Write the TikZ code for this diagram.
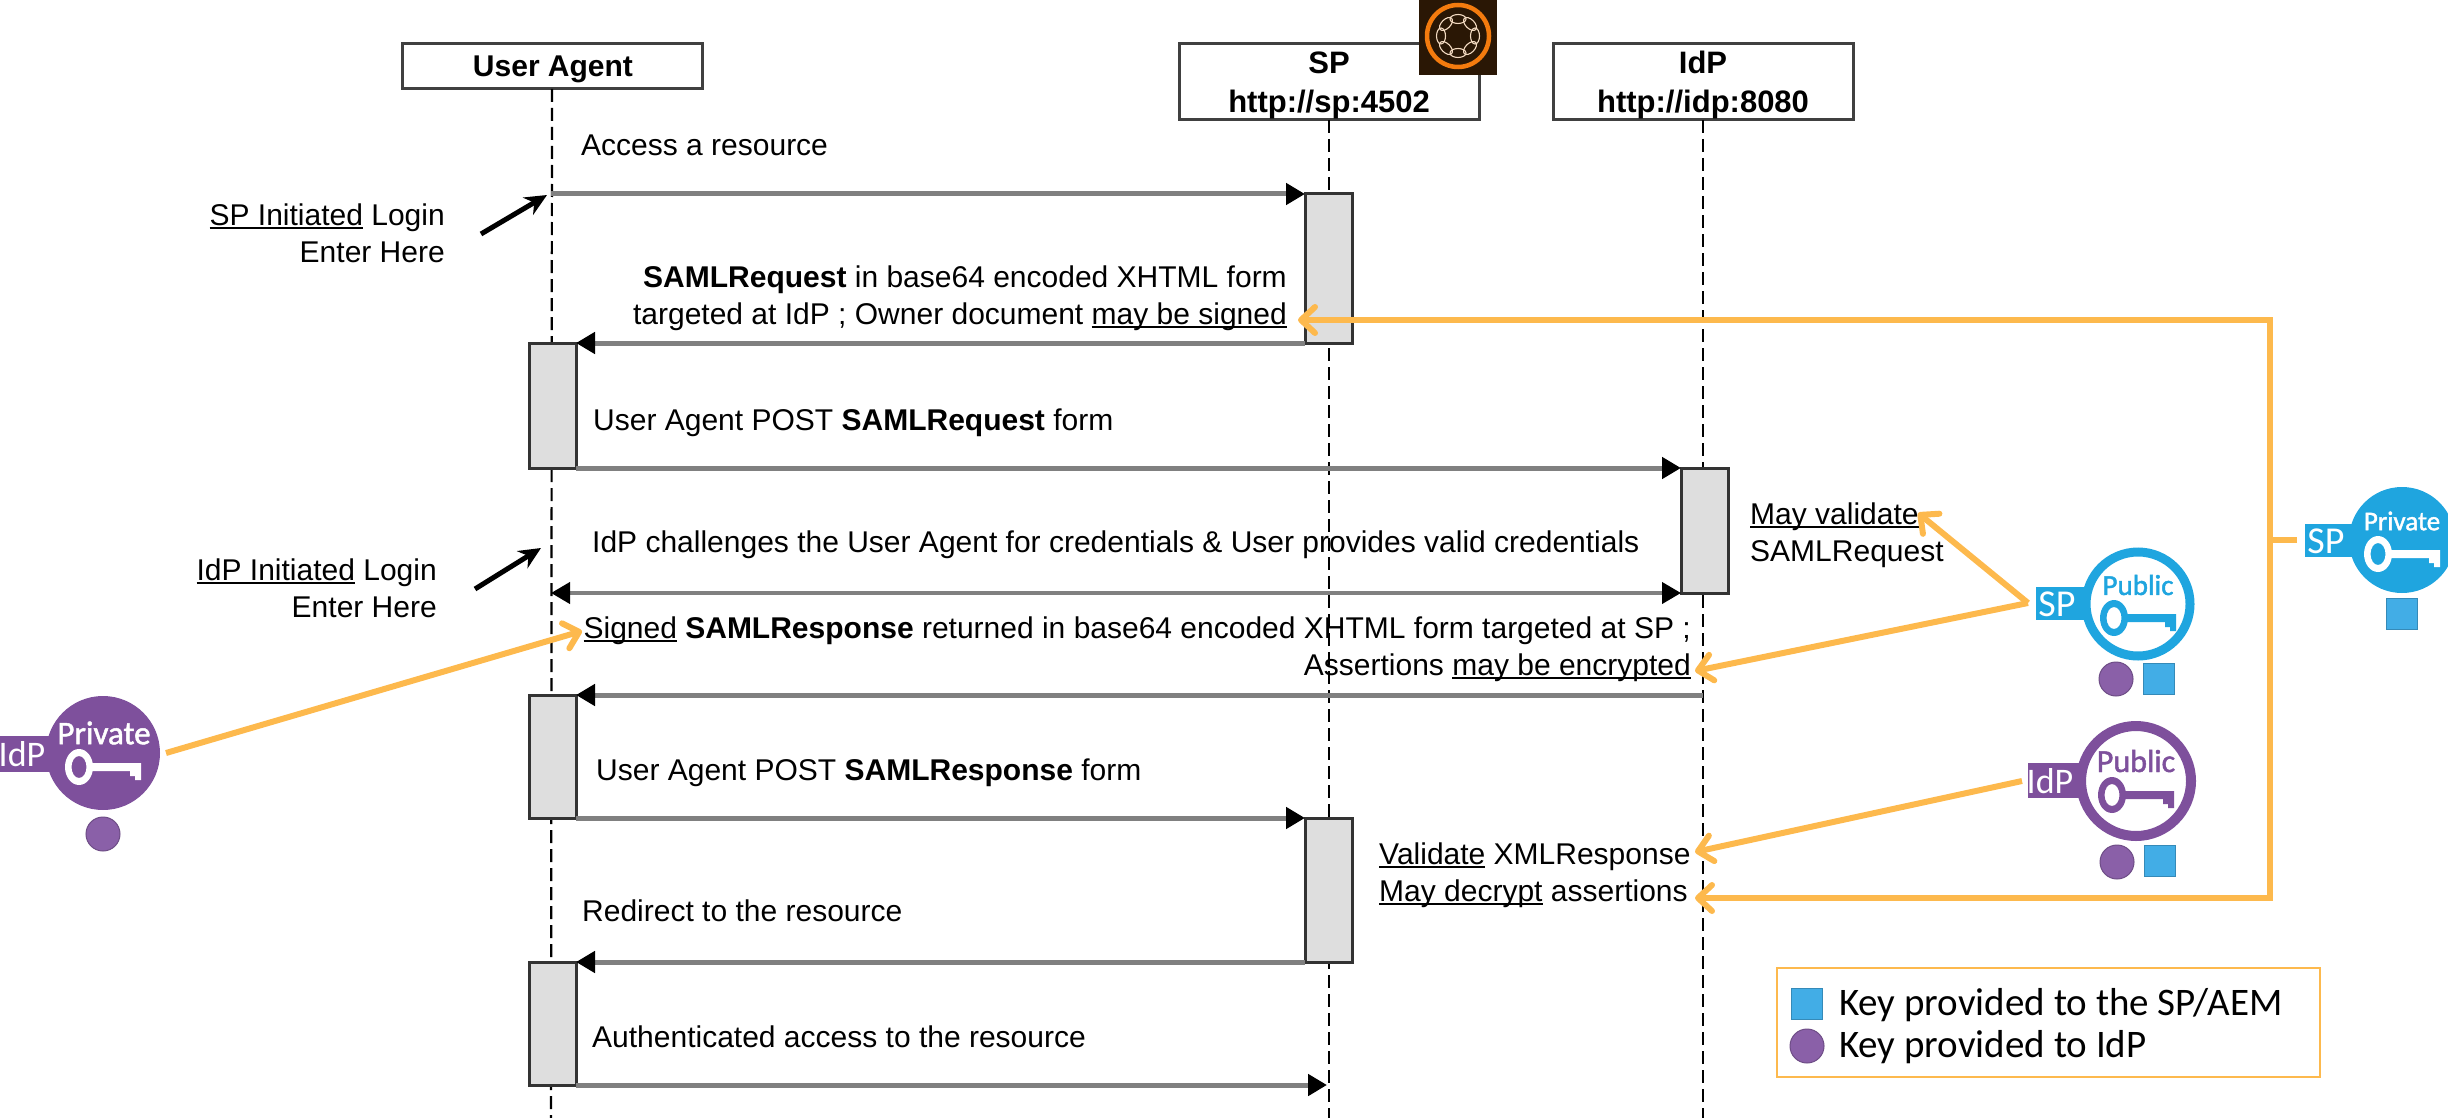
\documentclass[tikz,border=0pt]{standalone}
\usepackage{fontspec}
\setmainfont{Liberation Sans}
\newfontfamily\keyfont{Carlito}
\newfontfamily\keymed[FakeBold=1.5]{Carlito}
\usetikzlibrary{arrows.meta}
\definecolor{orangeln}{HTML}{FDB94D}
\definecolor{spblue}{HTML}{1FA5DF}
\definecolor{idppurple}{HTML}{7E509C}
\definecolor{legblue}{HTML}{42ADE6}
\definecolor{legpurple}{HTML}{8A60A8}
\definecolor{logobg}{HTML}{2A1705}
\definecolor{logoring}{HTML}{F47B0E}
\definecolor{logopetal}{HTML}{F2D9C0}
\newcommand{\ulined}[1]{\leavevmode\setbox0=\hbox{#1}\rlap{\rule[-4pt]{\wd0}{1.8pt}}\box0 }
\tikzset{
  x=1pt,y=-1pt,
  lbl/.style={inner sep=0pt,font=\fontsize{30}{37}\selectfont},
  actor/.style={draw=black!75,line width=3pt,fill=white,inner sep=0pt,outer sep=0pt,minimum width=300pt,align=center,font=\fontsize{31}{39}\selectfont\bfseries},
  active/.style={draw=black!80,line width=3pt,fill=black!13,inner sep=0pt,outer sep=0pt,minimum width=47pt},
  life/.style={draw=black,line width=2.2pt,dash pattern=on 13pt off 6pt},
  msg/.style={draw=black!50,line width=5pt,-{Triangle[length=19pt,width=21pt,black]}},
  msgboth/.style={draw=black!50,line width=4pt,{Triangle[length=19pt,width=21pt,black]}-{Triangle[length=19pt,width=21pt,black]}},
  enter/.style={draw=black,line width=5pt,-{Stealth[length=22pt,width=20pt]}},
  orangeline/.style={draw=orangeln,line width=6pt},
  orangearrow/.style={orangeline,-{Straight Barb[length=14pt,width=26pt,line width=6pt,round]}},
  keytab/.style={inner sep=0pt,text=white,font=\keyfont\fontsize{38}{38}\selectfont},
  keyword/.style={inner sep=0pt,font=\keymed\fontsize{29}{29}\selectfont},
  squarekey/.style={fill=legblue,draw=legblue!80!black,line width=1pt,minimum size=31pt,inner sep=0pt},
  roundkey/.style={circle,fill=legpurple,draw=legpurple!80!black,line width=1pt,minimum size=34pt,inner sep=0pt},
  legendtext/.style={inner sep=0pt,anchor=west,font=\keyfont\fontsize{39}{39}\selectfont},
}
\newcommand{\keyicon}[3]{% x, y, colour
  \begin{scope}[shift={(#1,#2)}]
    \fill[#3,even odd rule] (-24,14) ellipse [x radius=14,y radius=18] (-24,14) ellipse [x radius=7.5,y radius=11];
    \fill[#3] (-11,10) -- (38,10) -- (38,18) -- (38,27) -- (32,27) -- (32,23) -- (27,23) -- (27,18) -- (-11,18) -- cycle;
  \end{scope}}
\begin{document}
\begin{tikzpicture}
\useasboundingbox (0,0) rectangle (2448,1118);
\clip (0,0) rectangle (2448,1118);

% actors
\node[actor,minimum height=45pt,font=\fontsize{30}{38}\selectfont\bfseries] (ua) at (552,66.5) {\rule{0pt}{26pt}\hspace{2pt}User Agent};
\node[actor,minimum height=76pt] (sp) at (1329,82) {\rule{0pt}{29pt}SP\\http://sp:4502};
\node[actor,minimum height=76pt] (idp) at (1703,82) {\rule{0pt}{29pt}IdP\\http://idp:8080};

% lifelines
\coordinate (uaend) at (551,1118);
\coordinate (spend) at (1329,1118);
\coordinate (idpend) at (1703,1118);
\draw[life] (ua.south) -- (uaend);
\draw[life] (sp.south) -- (spend);
\draw[life] (idp.south) -- (idpend);

% Adobe logo
\fill[logobg] (1419,0) rectangle (1497,75);
\draw[logoring,line width=4.5pt] (1458,36) circle [radius=31];
\foreach \a in {0,45,...,315}{
  \draw[logopetal,line width=1.1pt,rotate around={\a:(1458,36)}] (1458,19) ellipse [x radius=8,y radius=4.5];
}

% activation bars
\node[active,minimum height=149pt] (sp1) at (1328.5,268.5) {};
\node[active,minimum height=125pt] (ua1) at (552.5,405.5) {};
\node[active,minimum height=125pt] (idp1) at (1704.5,530.5) {};
\node[active,minimum height=123pt] (ua2) at (552.5,756.5) {};
\node[active,minimum height=144pt] (sp2) at (1328.5,890) {};
\node[active,minimum height=123pt] (ua3) at (552.5,1023.5) {};

% messages
\coordinate (m1) at (551,194);
\coordinate (m4) at (551,593);
\coordinate (m5) at (1703,695);
\coordinate (m9) at (1327,1085);
\draw[msg] (m1) -- (sp1.north west);
\draw[msg] (sp1.south west) -- (ua1.north east);
\draw[msg] (ua1.south east) -- (idp1.north west);
\draw[msgboth] (m4) -- (idp1.south west);
\draw[msg] (m5) -- (ua2.north east);
\draw[msg] (ua2.south east) -- (sp2.north west);
\draw[msg] (sp2.south west) -- (ua3.north east);
\draw[msg] (ua3.south east) -- (m9);

% labels
\node[lbl,anchor=west] (t1) at (581,145) {Access a resource};
\node[lbl,anchor=east,align=right] (t2) at (445,233) {\ulined{SP Initiated} Login\\Enter Here};
\node[lbl,anchor=east,align=right] (t3) at (437,588) {\ulined{IdP Initiated} Login\\Enter Here};
\node[lbl,anchor=east,align=right] (t4) at (1287,298) {\textbf{SAMLRequest} in base64 encoded XHTML form\\targeted at IdP ; Owner document \ulined{may be signed}};
\node[lbl,anchor=west] (t5) at (593,423) {User Agent POST \textbf{SAMLRequest} form};
\node[lbl,anchor=west] (t6) at (592,545) {IdP challenges the User Agent for credentials \& User provides valid credentials};
\node[lbl,anchor=west,align=left] (t7) at (1750,535) {\ulined{May validate}\\SAMLRequest};
\node[lbl,anchor=east,align=right] (t8) at (1691,649) {\ulined{Signed} \textbf{SAMLResponse} returned in base64 encoded XHTML form targeted at SP ;\\Assertions \ulined{may be encrypted}};
\node[lbl,anchor=west] (t9) at (596,773) {User Agent POST \textbf{SAMLResponse} form};
\node[lbl,anchor=west,align=left] (t10) at (1379,875) {\ulined{Validate} XMLResponse\\\ulined{May decrypt} assertions};
\node[lbl,anchor=west] (t11) at (582,911) {Redirect to the resource};
\node[lbl,anchor=west] (t12) at (592,1037) {Authenticated access to the resource};

% entry arrows
\coordinate (e1a) at (481,234);
\coordinate (e1b) at (547,195);
\coordinate (e2a) at (475,589);
\coordinate (e2b) at (541,548);
\draw[enter] (e1a) -- (e1b);
\draw[enter] (e2a) -- (e2b);

% keys: SP private
\fill[spblue] (2305,524) rectangle (2360,557);
\node[keytab] (kspt) at (2326,541) {SP};
\fill[spblue] (2402,540) circle [radius=53];
\node[keyword,text=white,font=\keymed\fontsize{27}{27}\selectfont] (ksp) at (2402,521) {Private};
\keyicon{2402}{540}{white}
\node[squarekey] (ksps) at (2401.5,613.5) {};

% keys: SP public
\fill[spblue] (2036,587) rectangle (2090,620);
\node[keytab] (kpt) at (2057,604) {SP};
\draw[spblue,line width=9pt,fill=white] (2138,604) circle [radius=52];
\node[keyword,text=spblue] (kp) at (2138,585) {Public};
\keyicon{2138}{604}{spblue}
\node[roundkey] (kpc) at (2116,679) {};
\node[squarekey] (kps) at (2158.5,678.5) {};

% keys: IdP public
\fill[idppurple] (2028,763) rectangle (2085,798);
\node[keytab,font=\keyfont\fontsize{36}{36}\selectfont] (kit) at (2050,781) {IdP};
\draw[idppurple,line width=10pt,fill=white] (2136,781) circle [radius=55];
\node[keyword,text=idppurple,font=\keymed\fontsize{32}{32}\selectfont] (ki) at (2136,761) {Public};
\keyicon{2136}{781}{idppurple}
\node[roundkey] (kic) at (2117,862) {};
\node[squarekey] (kis) at (2159.5,860.5) {};

% keys: IdP private
\fill[idppurple] (0,736) rectangle (60,772);
\node[keytab,font=\keyfont\fontsize{36}{36}\selectfont] (kprt) at (22,754) {IdP};
\fill[idppurple] (103,753) circle [radius=57];
\node[keyword,text=white,font=\keymed\fontsize{33}{33}\selectfont] (kpr) at (104,733) {Private};
\keyicon{103}{753}{white}
\node[roundkey] (kprc) at (103,834) {};

% orange connectors
\coordinate (osrc) at (2297,540);
\coordinate (ov) at (2270,540);
\coordinate (ovt) at (2270,320);
\coordinate (ovb) at (2270,898);
\coordinate (oat) at (1298,320);
\coordinate (oab) at (1695,898);
\draw[orangearrow] (ov) -- (ovt) -- (oat);
\draw[orangearrow] (ov) -- (ovb) -- (oab);
\draw[orangeline] (osrc) -- (ov);
\coordinate (opsrc) at (2028,603);
\coordinate (opv) at (1918,513);
\coordinate (ope) at (1695,671);
\draw[orangearrow] (opsrc) -- (opv);
\draw[orangearrow] (opsrc) -- (ope);
\coordinate (oisrc) at (2022,781);
\coordinate (oiv) at (1695,852);
\draw[orangearrow] (oisrc) -- (oiv);
\coordinate (oprsrc) at (166,753);
\coordinate (oprt) at (582,631);
\draw[orangearrow] (oprsrc) -- (oprt);

% legend
\draw[orangeln,line width=2pt] (1777,968) rectangle (2320,1077);
\node[squarekey] (ls) at (1807,1004) {};
\node[roundkey] (lc) at (1807,1046) {};
\node[legendtext] (lt1) at (1839,1005) {Key provided to the SP/AEM};
\node[legendtext] (lt2) at (1839,1047) {Key provided to IdP};
\end{tikzpicture}
\end{document}
